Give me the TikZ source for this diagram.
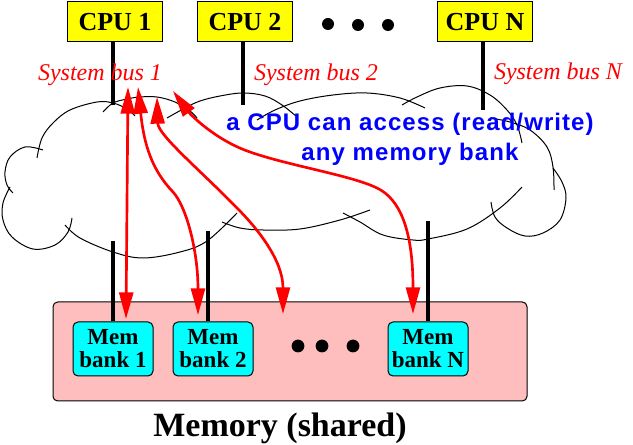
\documentclass[tikz,border=0pt]{standalone}
\usepackage{fontspec}
\setmainfont{Liberation Serif}
\newfontfamily\bluesans{Liberation Sans}[LetterSpace=4.5]
\usetikzlibrary{arrows.meta}
\definecolor{cpuyellow}{RGB}{255,255,0}
\definecolor{bankcyan}{RGB}{0,255,255}
\definecolor{mempink}{RGB}{255,190,190}
\definecolor{textblue}{RGB}{0,0,255}
\definecolor{arrowred}{RGB}{255,0,0}
\begin{document}
\begin{tikzpicture}[x=0.75pt,y=-0.75pt,
  cpubox/.style={draw=black, line width=0.75pt, fill=cpuyellow, minimum width=71.25pt, minimum height=30pt, inner sep=0pt, font=\fontsize{19.5pt}{19.5pt}\selectfont\bfseries},
  bankbox/.style={draw=black, line width=0.75pt, fill=bankcyan, rounded corners=3.75pt, minimum width=60pt, minimum height=40.5pt, inner sep=0pt, align=center, font=\fontsize{17.25pt}{17.25pt}\selectfont\bfseries},
  membox/.style={draw=black, line width=0.75pt, fill=mempink, rounded corners=3.5pt, minimum width=355.5pt, minimum height=74.25pt, inner sep=0pt},
  busline/.style={draw=black, line width=3pt},
  cloudline/.style={draw=black, line width=0.75pt},
  busname/.style={text=arrowred, font=\fontsize{18pt}{18pt}\selectfont\itshape, anchor=base, inner sep=0pt},
  access/.style={draw=arrowred, line width=2pt, {Triangle[length=20pt,width=10.5pt]}-{Triangle[length=20pt,width=10.5pt]}},
  blob/.style={fill=black}
]
\useasboundingbox (0,0) rectangle (633,445);

% cloud
\draw[cloudline] plot[smooth, tension=0.6] coordinates {(37,158) (42,138) (53,123) (70,110) (97,102) (113,103) (127,109) (135,116)};
\draw[cloudline] plot[smooth, tension=0.6] coordinates {(43,150) (25,147) (10,157) (5,172) (7,185) (13,193)};
\draw[cloudline] plot[smooth, tension=0.6] coordinates {(10,187) (3,203) (3,220) (12,237) (33,249) (55,245) (68,232) (72,218)};
\draw[cloudline] plot[smooth, tension=0.6] coordinates {(65,225) (80,238) (113,252) (143,258) (180,252) (207,241) (237,213)};
\draw[cloudline] plot[smooth, tension=0.6] coordinates {(222,222) (240,228) (263,230) (300,229) (340,220) (370,210)};
\draw[cloudline] plot[smooth, tension=0.6] coordinates {(343,213) (360,222) (383,235) (413,240) (428,239) (467,229) (500,208) (522,187)};
\draw[cloudline] plot[smooth, tension=0.6] coordinates {(491,202) (495,217) (507,228) (525,236) (543,233) (560,220) (566,198) (562,182) (553,168)};
\draw[cloudline] plot[smooth, tension=0.6] coordinates {(490,118) (510,122) (530,130) (547,147) (553,167) (554,190)};
\draw[cloudline] plot[smooth, tension=0.6] coordinates {(402,105) (417,97) (440,88) (467,86) (490,95) (507,110) (517,125) (522,143)};
\draw[cloudline] plot[smooth, tension=0.6] coordinates {(257,120) (275,110) (300,101) (333,95) (367,93) (400,98) (425,108)};
\draw[cloudline] plot[smooth, tension=0.6] coordinates {(167,118) (185,108) (200,101) (220,96) (243,93) (265,96) (282,105) (297,117)};
\draw[cloudline] plot[smooth, tension=0.6] coordinates {(103,112) (113,103) (127,99) (140,97) (157,97) (175,102) (190,111) (197,118)};

% CPUs
\node[cpubox] (cpu1) at (115,22) {CPU 1};
\node[cpubox] (cpu2) at (245,22) {CPU 2};
\node[cpubox] (cpuN) at (485,22) {CPU N};
\fill[blob] (328,24) circle[radius=4.5pt];
\fill[blob] (358,25) circle[radius=4.5pt];
\fill[blob] (388,25) circle[radius=4.5pt];

\coordinate (c1e) at (113,105);
\coordinate (c2e) at (243,105);
\coordinate (cNe) at (483,110);
\draw[busline] (cpu1.south -| c1e) -- (c1e);
\draw[busline] (cpu2.south -| c2e) -- (c2e);
\draw[busline] (cpuN.south -| cNe) -- (cNe);

\node[busname] (bus1) at (100,81) {System bus 1};
\node[busname] (bus2) at (316,81) {System bus 2};
\node[busname] (busN) at (558,80) {System bus N};

\node[anchor=north, inner sep=0pt, align=center, text=textblue, font=\fontsize{18pt}{22.5pt}\bluesans\bfseries] (note) at (410,112.5) {a CPU can access (read/write)\\any memory bank};

% memory
\node[membox] (mem) at (290,351.5) {};
\node[anchor=base, inner sep=0pt, font=\fontsize{25.5pt}{25.5pt}\selectfont\bfseries] (memlabel) at (280,437) {Memory (shared)};

\coordinate (k1) at (113,241);
\coordinate (k2) at (208,231);
\coordinate (kN) at (428,221);
\node[bankbox] (bank1) at (113,349) {Mem\\bank 1};
\node[bankbox] (bank2) at (213,349) {Mem\\bank 2};
\node[bankbox] (bankN) at (428,349) {Mem\\bank N};
\draw[busline] (k1) -- (k1 |- bank1.north);
\draw[busline] (k2) -- (k2 |- bank2.north);
\draw[busline] (kN) -- (kN |- bankN.north);
\fill[blob] (298,346) circle[radius=4.8pt];
\fill[blob] (322,346) circle[radius=4.8pt];
\fill[blob] (353,346) circle[radius=4.8pt];

% access arrows
\coordinate (t1) at (128,87); \coordinate (b1) at (126,319);
\coordinate (t2) at (138,87); \coordinate (m2) at (173,192); \coordinate (b2) at (198,315);
\coordinate (t3) at (157,97); \coordinate (m3) at (237,208); \coordinate (b3) at (283,314);
\coordinate (t4) at (173,91); \coordinate (m4a) at (250,152); \coordinate (m4b) at (377,188); \coordinate (b4) at (413,314);
\draw[access] (t1) -- (b1);
\draw[access] (t2) .. controls (144,145) and (152,170) .. (m2) .. controls (186,206) and (198,250) .. (b2);
\draw[access] (t3) .. controls (158,135) and (200,170) .. (m3) .. controls (257,228) and (283,260) .. (b3);
\draw[access] (t4) .. controls (190,114) and (215,140) .. (m4a) .. controls (290,166) and (350,175) .. (m4b) .. controls (400,199) and (413,230) .. (b4);
\end{tikzpicture}
\end{document}
